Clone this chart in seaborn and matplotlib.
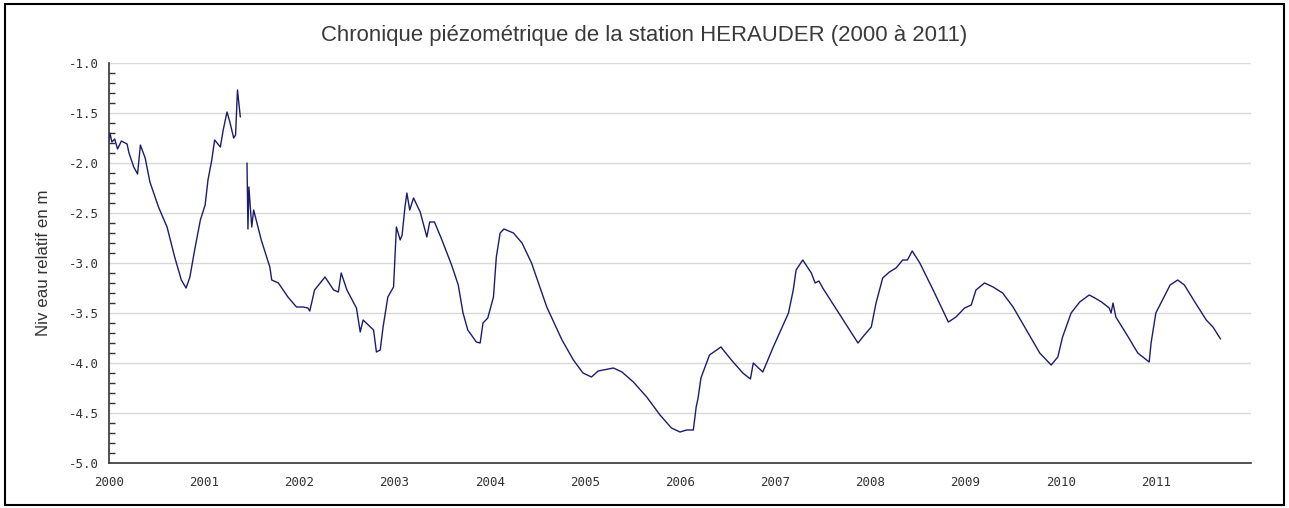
"""
Chronique piézométrique de la station HERAUDER (2000 à 2011).
"""

import numpy as np
import pandas as pd
import matplotlib.pyplot as plt
import seaborn as sns
from matplotlib.patches import Rectangle
from matplotlib.ticker import MultipleLocator

# Levels (decimal year, level in m)
# first segment: 2000 -> spring 2001 (the record is interrupted after it)
years_a = [2000.00, 2000.01, 2000.03, 2000.06, 2000.09, 2000.13, 2000.19, 2000.21,
           2000.26, 2000.30, 2000.33, 2000.38, 2000.43, 2000.52, 2000.61, 2000.69,
           2000.76, 2000.81, 2000.85, 2000.90, 2000.96, 2001.01, 2001.04, 2001.08,
           2001.11, 2001.17, 2001.20, 2001.24, 2001.27, 2001.31, 2001.33, 2001.35,
           2001.38]
level_a = [-1.78, -1.70, -1.79, -1.76, -1.86, -1.78, -1.81, -1.90,
           -2.04, -2.11, -1.82, -1.95, -2.19, -2.44, -2.64, -2.94,
           -3.17, -3.25, -3.14, -2.87, -2.57, -2.42, -2.17, -1.97,
           -1.77, -1.84, -1.67, -1.49, -1.59, -1.75, -1.72, -1.27,
           -1.54]

# second segment: summer 2001 -> 2011
years_b = [2001.45, 2001.46, 2001.47, 2001.50, 2001.52, 2001.60, 2001.69, 2001.71,
           2001.78, 2001.88, 2001.97, 2002.04, 2002.09, 2002.11, 2002.16, 2002.27,
           2002.36, 2002.41, 2002.44, 2002.50, 2002.60, 2002.64, 2002.67, 2002.78,
           2002.81, 2002.85, 2002.88, 2002.93, 2002.99, 2003.02, 2003.06, 2003.08,
           2003.11, 2003.13, 2003.16, 2003.20, 2003.27, 2003.34, 2003.37, 2003.42,
           2003.49, 2003.60, 2003.67, 2003.69, 2003.72, 2003.77, 2003.86, 2003.90,
           2003.93, 2003.98, 2004.04, 2004.07, 2004.11, 2004.15, 2004.25, 2004.34,
           2004.44, 2004.60, 2004.76, 2004.88, 2004.98, 2005.07, 2005.14, 2005.30,
           2005.39, 2005.51, 2005.65, 2005.79, 2005.91, 2006.00, 2006.07, 2006.14,
           2006.17, 2006.19, 2006.22, 2006.31, 2006.43, 2006.54, 2006.66, 2006.74,
           2006.77, 2006.87, 2006.98, 2007.14, 2007.19, 2007.22, 2007.29, 2007.38,
           2007.42, 2007.46, 2007.50, 2007.87, 2007.92, 2008.01, 2008.06, 2008.13,
           2008.20, 2008.27, 2008.34, 2008.39, 2008.44, 2008.52, 2008.66, 2008.82,
           2008.90, 2008.99, 2009.06, 2009.11, 2009.20, 2009.29, 2009.39, 2009.50,
           2009.64, 2009.78, 2009.90, 2009.97, 2010.02, 2010.11, 2010.20, 2010.30,
           2010.36, 2010.43, 2010.51, 2010.53, 2010.55, 2010.58, 2010.71, 2010.81,
           2010.93, 2010.95, 2011.00, 2011.07, 2011.15, 2011.23, 2011.30, 2011.41,
           2011.53, 2011.60, 2011.68]
level_b = [-2.00, -2.66, -2.24, -2.64, -2.47, -2.77, -3.04, -3.17,
           -3.20, -3.34, -3.44, -3.44, -3.45, -3.48, -3.27, -3.14,
           -3.27, -3.29, -3.10, -3.27, -3.45, -3.69, -3.57, -3.67,
           -3.89, -3.87, -3.64, -3.34, -3.24, -2.64, -2.77, -2.72,
           -2.44, -2.30, -2.47, -2.35, -2.49, -2.74, -2.59, -2.59,
           -2.75, -3.02, -3.22, -3.33, -3.50, -3.67, -3.79, -3.80,
           -3.60, -3.55, -3.34, -2.94, -2.70, -2.66, -2.70, -2.80,
           -3.00, -3.44, -3.77, -3.97, -4.10, -4.14, -4.08, -4.05,
           -4.09, -4.19, -4.34, -4.52, -4.65, -4.69, -4.67, -4.67,
           -4.44, -4.35, -4.15, -3.92, -3.84, -3.97, -4.10, -4.16,
           -4.00, -4.09, -3.84, -3.50, -3.27, -3.07, -2.97, -3.10,
           -3.20, -3.18, -3.25, -3.80, -3.74, -3.64, -3.40, -3.15,
           -3.09, -3.05, -2.97, -2.97, -2.88, -3.00, -3.27, -3.59,
           -3.54, -3.45, -3.42, -3.27, -3.20, -3.24, -3.30, -3.44,
           -3.67, -3.90, -4.02, -3.94, -3.74, -3.50, -3.39, -3.32,
           -3.35, -3.39, -3.45, -3.50, -3.40, -3.54, -3.74, -3.90,
           -3.99, -3.80, -3.50, -3.37, -3.22, -3.17, -3.22, -3.39,
           -3.57, -3.64, -3.76]

year_ticks = list(range(2000, 2012))
level_ticks = [-1.0, -1.5, -2.0, -2.5, -3.0, -3.5, -4.0, -4.5, -5.0]

df = pd.concat([
    pd.DataFrame({"annee": years_a, "niveau": level_a, "segment": 0}),
    pd.DataFrame({"annee": years_b, "niveau": level_b, "segment": 1}),
])

sns.set_theme(style="white")
plt.rcParams["font.family"] = ["Liberation Sans", "DejaVu Sans"]

fig = plt.figure(figsize=(12.89, 5.08), dpi=100)
ax = fig.add_axes([109 / 1289, 45 / 508, 1142 / 1289, 400 / 508])

sns.lineplot(data=df, x="annee", y="niveau", units="segment", estimator=None,
             color="#1c1c6e", linewidth=1.0, ax=ax)

ax.set_xlim(2000, 2012)
ax.set_ylim(-5.0, -1.0)
ax.set_xticks(year_ticks)
ax.set_xticklabels([str(y) for y in year_ticks])
ax.set_yticks(level_ticks)
ax.set_yticklabels([f"{v:.1f}" for v in level_ticks])
ax.yaxis.set_minor_locator(MultipleLocator(0.1))

for v in level_ticks[:-1]:
    ax.axhline(v, color="#d9d9d9", linewidth=1.0, zorder=0)

for side in ["top", "right"]:
    ax.spines[side].set_visible(False)
for side in ["left", "bottom"]:
    ax.spines[side].set_color("#333333")
    ax.spines[side].set_linewidth(1.2)

ax.tick_params(axis="x", which="major", direction="in", length=8, width=1,
               color="#333333", pad=9, labelsize=9, labelcolor="#333333")
ax.tick_params(axis="y", which="major", direction="in", length=6, width=1,
               color="#333333", pad=7, labelsize=9, labelcolor="#333333")
ax.tick_params(axis="y", which="minor", direction="in", length=4, width=1,
               color="#333333", left=True)
for lab in ax.get_xticklabels() + ax.get_yticklabels():
    lab.set_family("DejaVu Sans Mono")

ax.set_xlabel("")
ax.set_ylabel("Niv eau relatif en m", fontsize=12.2, color="#333333", labelpad=13)

fig.text(0.5, 1 - 35 / 508, "Chronique piézométrique de la station HERAUDER (2000 à 2011)",
         ha="center", va="center", fontsize=15.9, color="#3a3a3a")

fig.patches.append(Rectangle((5 / 1289, 3 / 508), 1279 / 1289, 501 / 508,
                             transform=fig.transFigure, fill=False,
                             edgecolor="black", linewidth=1.5))

fig.savefig("out.png", dpi=100)
